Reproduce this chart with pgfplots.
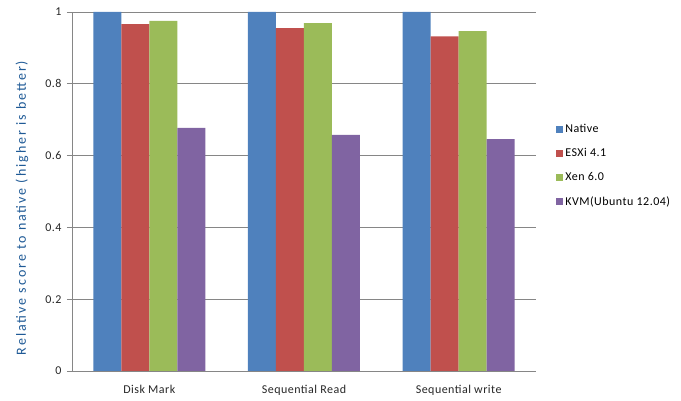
\documentclass[border=0pt]{standalone}
\usepackage{pgfplots}
\pgfplotsset{compat=1.18}
\usepackage{fontspec}
\setmainfont{Carlito}
\newfontfamily\labelfont[LetterSpace=14]{Carlito}
\newfontfamily\widefont[LetterSpace=4]{Carlito}

\definecolor{cNative}{HTML}{4F81BD}
\definecolor{cEsx}{HTML}{C0504D}
\definecolor{cXen}{HTML}{9BBB59}
\definecolor{cKvm}{HTML}{8064A2}
\definecolor{gridgray}{HTML}{868686}
\definecolor{labelblue}{HTML}{1F5A96}

\begin{document}
\begin{tikzpicture}
\path[use as bounding box] (-72pt,-30pt) rectangle (609pt,371pt);
\begin{axis}[
    scale only axis,
    width=464pt, height=359pt,
    ybar=0pt,
    bar width=28pt,
    xmin=-0.5, xmax=2.5,
    ymin=0, ymax=1,
    ytick={0,0.2,...,1},
    yticklabels={0,0.2,0.4,0.6,0.8,1},
    xtick={0,1,2},
    xticklabels={Disk Mark,Sequential Read,Sequential write},
    major x tick style={draw=none},
    extra x ticks={-0.5,0.5,1.5,2.5},
    extra x tick labels={},
    extra x tick style={major tick length=5pt, tick style={draw=gridgray}, grid=none},
    tick align=outside,
    major tick length=5pt,
    axis lines*=left,
    axis line style={draw=gridgray, line width=0.8pt},
    tick style={draw=gridgray, line width=0.8pt},
    ymajorgrids,
    major grid style={draw=gridgray, line width=0.8pt},
    ticklabel style={font=\widefont\fontsize{12}{14}\selectfont, text=black!85},
    xticklabel style={yshift=-6pt},
    y tick label style={xshift=-2pt},
    ylabel={Relative score to native (higher is better)},
    every axis y label/.style={at={(rel axis cs:0,0.454)}, xshift=-50pt,
        anchor=center, rotate=90,
        font=\labelfont\fontsize{14}{16}\selectfont, text=labelblue},
    legend style={at={(1.037,0.572)}, anchor=west, draw=none, fill=none,
        font=\widefont\fontsize{12}{14}\selectfont, row sep=10.5pt,
        legend cell align=left,
        /tikz/every even column/.append style={column sep=1pt}},
    legend image code/.code={\fill[#1] (0pt,-3.5pt) rectangle (7pt,3.5pt);},
]
\addplot[fill=cNative, draw=none] coordinates {(0,1.0) (1,1.0) (2,1.0)};
\addplot[fill=cEsx, draw=none] coordinates {(0,0.966) (1,0.955) (2,0.932)};
\addplot[fill=cXen, draw=none] coordinates {(0,0.975) (1,0.969) (2,0.947)};
\addplot[fill=cKvm, draw=none] coordinates {(0,0.677) (1,0.658) (2,0.646)};
\legend{Native,ESXi 4.1,Xen 6.0,KVM(Ubuntu 12.04)}
\end{axis}
\end{tikzpicture}
\end{document}
